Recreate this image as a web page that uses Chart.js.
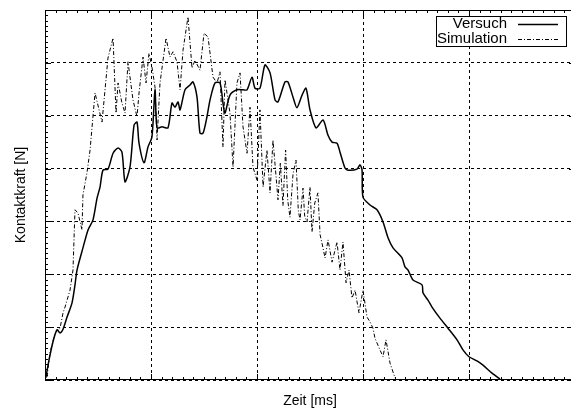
<!DOCTYPE html>
<html>
<head>
<meta charset="utf-8">
<script src="https://cdn.jsdelivr.net/npm/chart.js@4"></script>
<style>
  html, body { margin: 0; padding: 0; overflow: hidden; background: #fff; }
  #wrap { width: 580px; height: 413px; }
</style>
</head>
<body>
<div id="wrap"><canvas id="graph" width="580" height="413"></canvas></div>
<script>
const seriesNames = ['Versuch', 'Simulation'];
const xLabel = 'Zeit [ms]';
const yLabel = 'Kontaktkraft [N]';

// Versuch (solid)
const versuchX = [0.007,0.038,0.075,0.113,0.142,0.170,0.208,0.255,0.283,0.302,0.358,0.406,0.453,0.491,0.519,0.547,0.594,0.642,0.689,0.726,0.755,0.802,0.840,0.868,0.887,0.934,0.972,1.009,1.038,1.057,1.104,1.160,1.198,1.226,1.255,1.274,1.321,1.368,1.396,1.434,1.462,1.491,1.528,1.557,1.604,1.651,1.679,1.698,1.745,1.811,1.868,1.906,1.953,1.981,2.028,2.075,2.123,2.170,2.198,2.264,2.292,2.340,2.377,2.425,2.462,2.500,2.557,2.623,2.670,2.708,2.755,2.783,2.830,2.858,2.943,2.972,2.991,3.000,3.066,3.132,3.189,3.236,3.283,3.368,3.396,3.425,3.472,3.557,3.566,3.613,3.651,3.726,3.802,3.887,3.943,4.000,4.075,4.132,4.217,4.292];
const versuchY = [0.04,0.38,0.72,0.95,0.89,0.96,1.19,1.46,1.80,2.08,2.50,2.84,3.03,3.44,3.65,3.97,3.99,4.29,4.39,4.31,3.75,4.03,4.82,4.88,4.48,4.11,4.41,4.60,5.49,4.77,4.79,4.77,5.24,5.16,5.26,5.11,5.49,5.58,5.64,5.35,4.67,4.67,4.98,5.30,5.62,5.62,5.24,5.05,5.39,5.49,5.49,5.49,5.73,5.52,5.52,5.96,5.81,5.30,5.26,5.64,5.64,5.35,5.15,5.39,5.52,5.11,4.77,4.92,4.63,4.50,4.48,4.31,4.01,3.97,3.99,4.07,3.97,3.46,3.31,3.22,2.99,2.69,2.50,2.31,2.14,2.08,1.89,1.80,1.65,1.51,1.38,1.17,0.98,0.76,0.57,0.44,0.36,0.28,0.13,0.02];

// Simulation (dash-dot)
const simX = [0.019,0.047,0.094,0.142,0.170,0.189,0.236,0.264,0.283,0.311,0.349,0.358,0.396,0.425,0.472,0.538,0.594,0.642,0.670,0.689,0.726,0.755,0.783,0.830,0.868,0.887,0.925,0.953,0.981,1.009,1.038,1.057,1.085,1.142,1.179,1.208,1.245,1.274,1.302,1.349,1.387,1.415,1.462,1.500,1.538,1.585,1.623,1.651,1.679,1.698,1.745,1.774,1.811,1.840,1.868,1.906,1.934,1.962,2.000,2.028,2.057,2.094,2.123,2.151,2.198,2.220,2.245,2.270,2.290,2.311,2.340,2.368,2.390,2.406,2.434,2.450,2.472,2.500,2.519,2.545,2.575,2.595,2.613,2.642,2.670,2.708,2.755,2.783,2.811,2.840,2.868,2.896,2.925,2.962,3.000,3.038,3.066,3.094,3.113,3.160,3.189,3.217,3.255,3.302];
const simY = [0.06,0.51,0.89,0.98,1.27,1.38,1.70,2.08,3.22,3.16,2.84,3.50,3.92,4.35,5.43,4.88,6.09,6.47,5.05,5.62,5.24,5.05,6.02,5.30,4.98,5.43,6.11,5.62,6.18,5.92,5.54,4.54,5.62,6.47,6.11,6.21,6.02,5.49,6.24,6.87,5.90,6.05,5.86,6.56,6.49,5.73,5.62,5.83,4.41,5.68,5.05,4.03,5.62,5.81,4.79,4.29,5.16,4.03,3.78,5.11,3.65,4.35,3.54,4.54,3.41,4.10,3.30,4.35,3.40,3.08,3.90,4.16,3.20,3.03,3.63,3.10,2.99,3.65,2.80,3.35,3.54,2.75,2.59,2.31,2.65,2.23,2.61,2.08,2.61,1.84,2.08,1.55,1.70,1.27,1.70,1.19,1.10,0.98,0.79,0.57,0.44,0.76,0.32,0.04];

const xMin = 0, xMax = 5, xStep = 1;
const yMin = 0, yMax = 7, yStep = 1;

const pts = (xs, ys) => xs.map((x, i) => ({ x: x, y: ys[i] }));

const FONT = '"Liberation Sans", Arial, Helvetica, sans-serif';
const DASHDOT = [4, 2, 1, 2];

const decor = {
  id: 'decor',
  afterDraw(chart) {
    const ctx = chart.ctx;
    const a = chart.chartArea;
    const xs = chart.scales.x, ys = chart.scales.y;
    ctx.save();
    // frame
    ctx.strokeStyle = '#000';
    ctx.lineWidth = 1;
    ctx.setLineDash([]);
    ctx.strokeRect(a.left + 0.5, a.top + 0.5, a.right - a.left - 1, a.bottom - a.top - 1);
    // ticks
    ctx.beginPath();
    for (let v = xMin; v <= xMax + 1e-9; v += xStep / 10) {
      const p = Math.round(xs.getPixelForValue(v)) + 0.5;
      const major = Math.abs(v / xStep - Math.round(v / xStep)) < 1e-6;
      const len = major ? 6 : 3;
      ctx.moveTo(p, a.bottom); ctx.lineTo(p, a.bottom - len);
      ctx.moveTo(p, a.top); ctx.lineTo(p, a.top + len);
    }
    for (let v = yMin; v <= yMax + 1e-9; v += yStep / 10) {
      const p = Math.round(ys.getPixelForValue(v)) + 0.5;
      const major = Math.abs(v / yStep - Math.round(v / yStep)) < 1e-6;
      const len = major ? 6 : 3;
      ctx.moveTo(a.left, p); ctx.lineTo(a.left + len, p);
      ctx.moveTo(a.right, p); ctx.lineTo(a.right - len, p);
    }
    ctx.stroke();

    // axis titles
    ctx.fillStyle = '#000';
    ctx.font = '14px ' + FONT;
    ctx.textAlign = 'center';
    ctx.textBaseline = 'middle';
    ctx.fillText(xLabel, 310, 401);
    ctx.translate(21, 195);
    ctx.rotate(-Math.PI / 2);
    ctx.fillText(yLabel, 0, 0);
    ctx.restore();

    // legend
    ctx.save();
    ctx.fillStyle = '#fff';
    ctx.fillRect(436, 16, 130, 30);
    ctx.strokeStyle = '#000';
    ctx.lineWidth = 1;
    ctx.strokeRect(436.5, 16.5, 130, 30);
    ctx.fillStyle = '#000';
    ctx.font = '15px ' + FONT;
    ctx.textAlign = 'right';
    ctx.textBaseline = 'middle';
    const rows = [24, 39];
    chart.data.datasets.forEach((ds, i) => {
      ctx.fillText(ds.label, 507, rows[i]);
      ctx.beginPath();
      ctx.lineWidth = ds.borderWidth;
      ctx.setLineDash(ds.borderDash || []);
      ctx.moveTo(518, rows[i] + 0.5);
      ctx.lineTo(558, rows[i] + 0.5);
      ctx.stroke();
    });
    ctx.restore();
  }
};

new Chart(document.getElementById('graph'), {
  type: 'line',
  data: {
    datasets: [
      {
        label: seriesNames[0],
        data: pts(versuchX, versuchY),
        borderColor: '#000',
        borderWidth: 1.5,
        pointRadius: 0,
        tension: 0.25,
        fill: false
      },
      {
        label: seriesNames[1],
        data: pts(simX, simY),
        borderColor: '#000',
        borderWidth: 1,
        borderDash: DASHDOT,
        pointRadius: 0,
        tension: 0,
        fill: false
      }
    ]
  },
  options: {
    responsive: false,
    animation: false,
    events: [],
    layout: { padding: { left: 45, top: 10, right: 5, bottom: 33 } },
    plugins: { legend: { display: false }, tooltip: { enabled: false } },
    scales: {
      x: {
        type: 'linear',
        min: xMin, max: xMax,
        ticks: { display: false, stepSize: xStep },
        grid: { color: '#000', lineWidth: 1, drawTicks: false },
        border: { display: false, dash: [3, 3] }
      },
      y: {
        type: 'linear',
        min: yMin, max: yMax,
        ticks: { display: false, stepSize: yStep },
        grid: { color: '#000', lineWidth: 1, drawTicks: false },
        border: { display: false, dash: [3, 3] }
      }
    }
  },
  plugins: [decor]
});
</script>
</body>
</html>
